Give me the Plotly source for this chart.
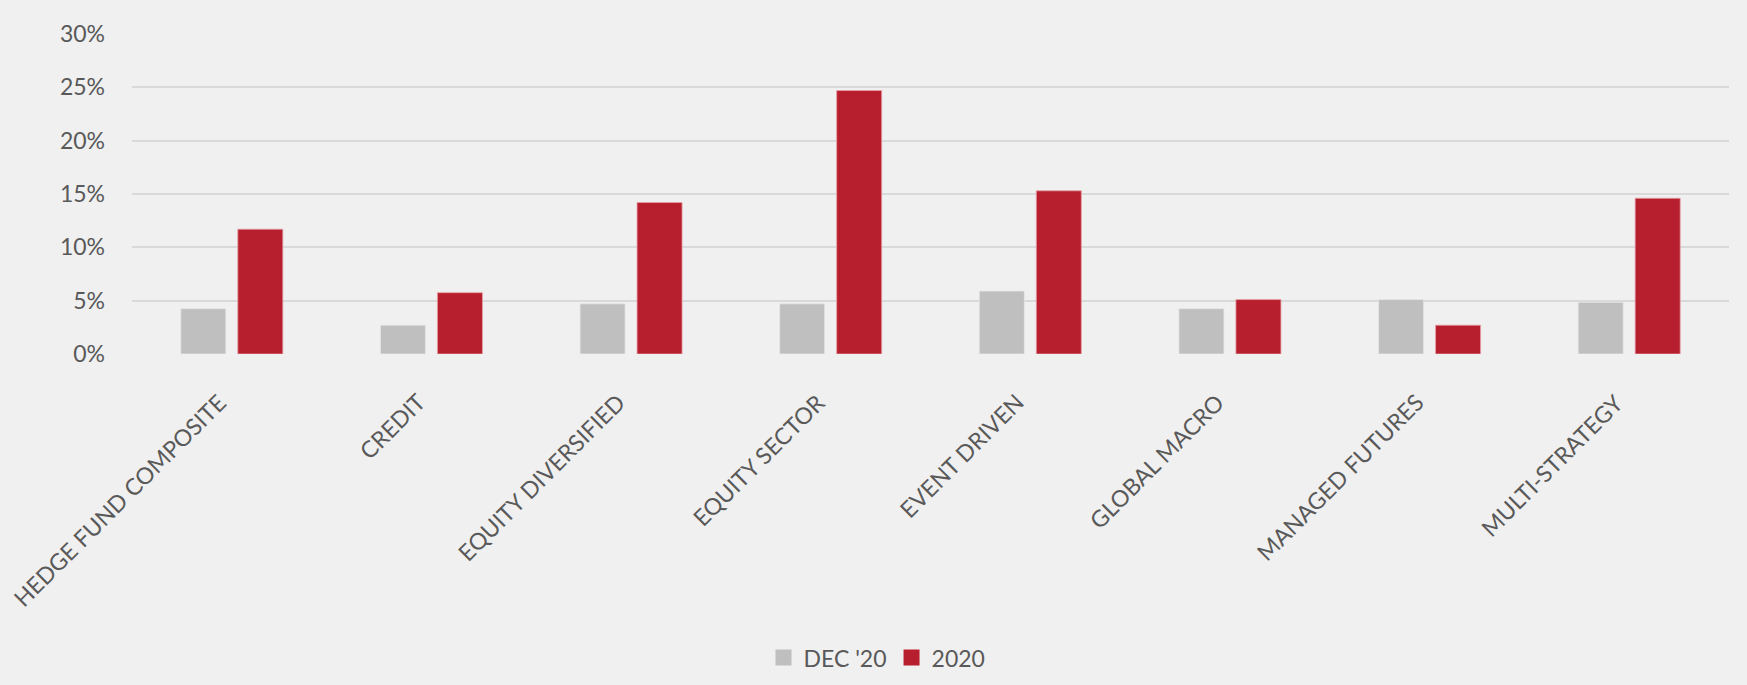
import plotly.graph_objects as go

categories = ["HEDGE FUND COMPOSITE", "CREDIT", "EQUITY DIVERSIFIED", "EQUITY SECTOR",
              "EVENT DRIVEN", "GLOBAL MACRO", "MANAGED FUTURES", "MULTI-STRATEGY"]
dec20 = [4.25, 2.7, 4.7, 4.7, 5.9, 4.25, 5.1, 4.85]
y2020 = [11.7, 5.75, 14.2, 24.7, 15.3, 5.1, 2.7, 14.6]
y_ticks = [0, 5, 10, 15, 20, 25, 30]
y_ticktext = [f"{v}%" for v in y_ticks]

FONT = "Lato"
TXT = "#595959"
GRAY = "#bfbfbf"
RED = "#b71f2e"

fig = go.Figure()
fig.add_trace(go.Bar(x=categories, y=dec20, name="DEC '20", showlegend=False,
                     marker=dict(color=GRAY, line=dict(color="#e6e6e6", width=0.8))))
fig.add_trace(go.Bar(x=categories, y=y2020, name="2020", showlegend=False,
                     marker=dict(color=RED, line=dict(color="#e6a0a6", width=0.8))))
# legend entries with larger square swatches
for nm, col in [("DEC '20", GRAY), ("2020", RED)]:
    fig.add_trace(go.Scatter(x=[None], y=[None], mode="markers", name=nm,
                             marker=dict(symbol="square", size=18, color=col)))

# rotated category labels as annotations for precise placement
for c in categories:
    fig.add_annotation(x=c, xref="x", y=0, yref="paper", text=c, showarrow=False,
                       textangle=-45, xanchor="right", yanchor="top",
                       xshift=2, yshift=-31,
                       font=dict(family=FONT, size=23, color=TXT))

fig.update_layout(
    width=1747, height=685,
    paper_bgcolor="#f0f0f0", plot_bgcolor="#f0f0f0",
    margin=dict(l=132, r=18, t=34, b=331, autoexpand=False),
    barmode="group", bargap=0.429, bargroupgap=0.21,
    font=dict(family=FONT, color=TXT, size=23),
    legend=dict(orientation="h", xref="container", yref="container",
                x=0.502, xanchor="center", y=0.04, yanchor="middle",
                font=dict(size=23, color=TXT), bgcolor="rgba(0,0,0,0)",
                itemwidth=30, traceorder="normal", tracegroupgap=0),
    showlegend=True,
)
fig.update_yaxes(range=[0, 30], tickvals=y_ticks, ticktext=y_ticktext,
                 showgrid=True, gridcolor="#d9d9d9", gridwidth=1.5,
                 zeroline=False, showline=False, ticks="",
                 ticklabelstandoff=26, tickfont=dict(size=23, color=TXT))
fig.update_xaxes(type="category", categoryorder="array", categoryarray=categories,
                 range=[-0.5, len(categories) - 0.5], autorange=False,
                 showticklabels=False, showgrid=False, showline=False, ticks="")

fig.write_html("out.html", config={"displayModeBar": False},
               post_script="document.body.style.margin='0';")
